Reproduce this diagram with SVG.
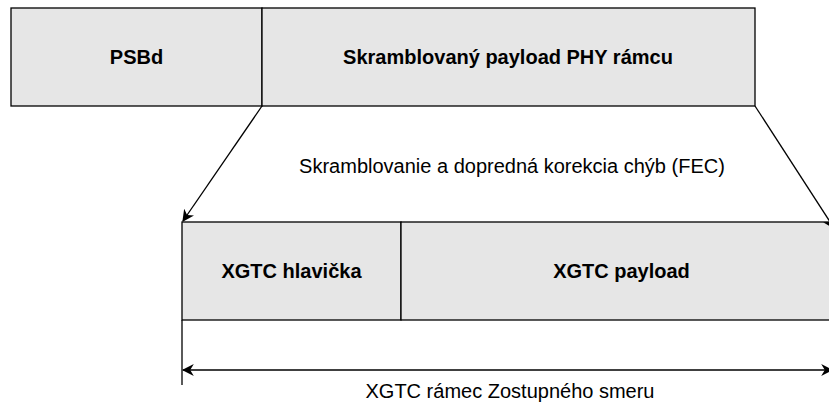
<svg xmlns="http://www.w3.org/2000/svg" width="829" height="405" viewBox="0 0 829 405">
<style>
.box{fill:#e6e6e6;stroke:#000;stroke-width:1.3}
.b{font-family:"Liberation Sans",Arial,sans-serif;font-size:20px;font-weight:bold;text-anchor:middle;fill:#000}
.t{font-family:"Liberation Sans",Arial,sans-serif;font-size:20px;text-anchor:middle;fill:#000}
.ln{stroke:#000;stroke-width:1.3;fill:none}
</style>
<defs>
<marker id="ah" viewBox="0 0 10 10" refX="9" refY="5" markerWidth="12" markerHeight="12" markerUnits="userSpaceOnUse" orient="auto-start-reverse">
<path d="M0,0 L10,5 L0,10 L3,5 Z" fill="#000"/>
</marker>
</defs>
<rect width="829" height="405" fill="#fff"/>
<g id="psbd"><rect class="box" x="11" y="8" width="251" height="98"/><text class="b" x="136.5" y="64">PSBd</text></g>
<g id="payload-phy"><rect class="box" x="262" y="8" width="493" height="98"/><text class="b" x="508" y="64">Skramblovaný payload PHY rámcu</text></g>
<g id="xgtc-header"><rect class="box" x="182" y="222" width="219" height="98"/><text class="b" x="291.5" y="278">XGTC hlavička</text></g>
<g id="xgtc-payload"><rect class="box" x="401" y="222" width="441" height="98"/><text class="b" x="621.5" y="278">XGTC payload</text></g>
<g id="connectors">
<line class="ln" x1="262" y1="106" x2="183" y2="221" marker-end="url(#ah)"/>
<line class="ln" x1="755" y1="106" x2="834" y2="228" marker-end="url(#ah)"/>
<line class="ln" x1="182" y1="320" x2="182" y2="385"/>
<line class="ln" x1="183" y1="370" x2="832" y2="370" marker-start="url(#ah)" marker-end="url(#ah)"/>
</g>
<text class="t" x="512" y="173">Skramblovanie a dopredná korekcia chýb (FEC)</text>
<text class="t" x="510" y="398">XGTC rámec Zostupného smeru</text>
</svg>
